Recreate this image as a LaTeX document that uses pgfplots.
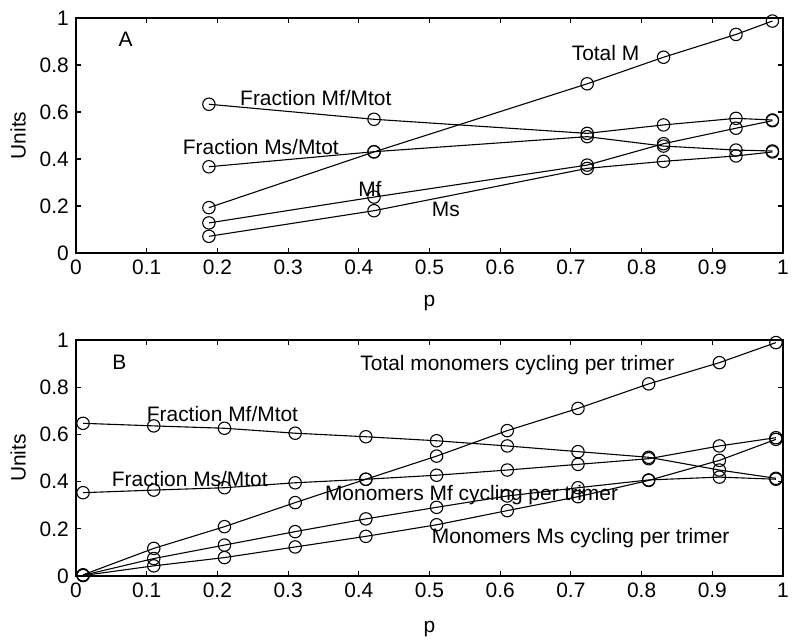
\documentclass[border=0pt]{standalone}
\usepackage{fontspec}
\setmainfont{Liberation Sans}
\usepackage{pgfplots}
\pgfplotsset{compat=1.18}

\pgfplotstableread{
x      tot    mf     ms     fmf    fms
0.188  0.193  0.128  0.071  0.633  0.367
0.4215 0.430  0.238  0.180  0.569  0.431
0.723  0.720  0.374  0.360  0.509  0.495
0.831  0.833  0.465  0.390  0.545  0.455
0.9335 0.930  0.531  0.413  0.573  0.438
0.985  0.987  0.563  0.430  0.566  0.434
}\topdata

\pgfplotstableread{
x     tot    mf     ms     fmf    fms
0.01  0.005  0.003  0.002  0.647  0.353
0.11  0.117  0.074  0.043  0.636  0.364
0.21  0.209  0.131  0.078  0.626  0.374
0.31  0.311  0.188  0.123  0.605  0.395
0.41  0.410  0.242  0.168  0.590  0.410
0.51  0.508  0.291  0.217  0.573  0.427
0.61  0.616  0.339  0.277  0.551  0.449
0.71  0.710  0.374  0.336  0.527  0.473
0.81  0.814  0.407  0.405  0.503  0.497
0.91  0.904  0.419  0.490  0.449  0.551
0.99  0.989  0.410  0.579  0.414  0.586
}\botdata

\tikzset{txt/.style={anchor=base west, inner sep=0pt, font=\fontsize{21}{25}\selectfont},
  pl/.style={black, line width=1.1bp, mark=o, mark size=6.2bp, mark options={solid, black, line width=1.1bp}}}

\begin{document}
\fontsize{21}{25}\selectfont
\begin{tikzpicture}[x=1bp,y=1bp]
\pgfplotsset{
  myax/.style={
    scale only axis, width=707bp,
    xmin=0, xmax=1, ymin=0, ymax=1,
    xtick={0,0.1,0.2,0.3,0.4,0.5,0.6,0.7,0.8,0.9,1},
    ytick={0,0.2,0.4,0.6,0.8,1},
    tick align=inside, major tick length=5bp,
    tick style={black, line width=1.1bp},
    axis line style={line width=1.5bp},
    /pgf/number format/assume math mode=true,
    tick label style={font=\fontsize{21}{25}\selectfont},
    label style={font=\fontsize{21}{25}\selectfont},
    ylabel={Units},
    ylabel style={at={(axis description cs:-0.082,0.5)}, anchor=center},
    xlabel={p},
  }
}
\begin{axis}[myax, height=235bp, at={(76bp,389bp)}, anchor=south west,
  xlabel style={at={(axis description cs:0.5,-0.213)}, anchor=center}]
\addplot[pl] table[x=x,y=tot] {\topdata};
\addplot[pl] table[x=x,y=mf] {\topdata};
\addplot[pl] table[x=x,y=ms] {\topdata};
\addplot[pl] table[x=x,y=fmf] {\topdata};
\addplot[pl] table[x=x,y=fms] {\topdata};
\node[txt] at (axis cs:0.06,0.878) {A};
\node[txt] at (axis cs:0.232,0.626) {Fraction Mf/Mtot};
\node[txt] at (axis cs:0.151,0.421) {Fraction Ms/Mtot};
\node[txt] at (axis cs:0.399,0.24) {Mf};
\node[txt] at (axis cs:0.503,0.157) {Ms};
\node[txt] at (axis cs:0.701,0.821) {Total M};
\end{axis}
\begin{axis}[myax, height=236bp, at={(76bp,66bp)}, anchor=south west,
  xlabel style={at={(axis description cs:0.5,-0.225)}, anchor=center}]
\addplot[pl] table[x=x,y=tot] {\botdata};
\addplot[pl] table[x=x,y=mf] {\botdata};
\addplot[pl] table[x=x,y=ms] {\botdata};
\addplot[pl] table[x=x,y=fmf] {\botdata};
\addplot[pl] table[x=x,y=fms] {\botdata};
\node[txt] at (axis cs:0.051,0.873) {B};
\node[txt] at (axis cs:0.402,0.87) {Total monomers cycling per trimer};
\node[txt] at (axis cs:0.10,0.654) {Fraction Mf/Mtot};
\node[txt] at (axis cs:0.0505,0.381) {Fraction Ms/Mtot};
\node[txt] at (axis cs:0.352,0.322) {Monomers Mf cycling per trimer};
\node[txt] at (axis cs:0.503,0.139) {Monomers Ms cycling per trimer};
\end{axis}
\pgfresetboundingbox
\path[use as bounding box] (0,0) rectangle (798bp,642bp);
\end{tikzpicture}
\end{document}
